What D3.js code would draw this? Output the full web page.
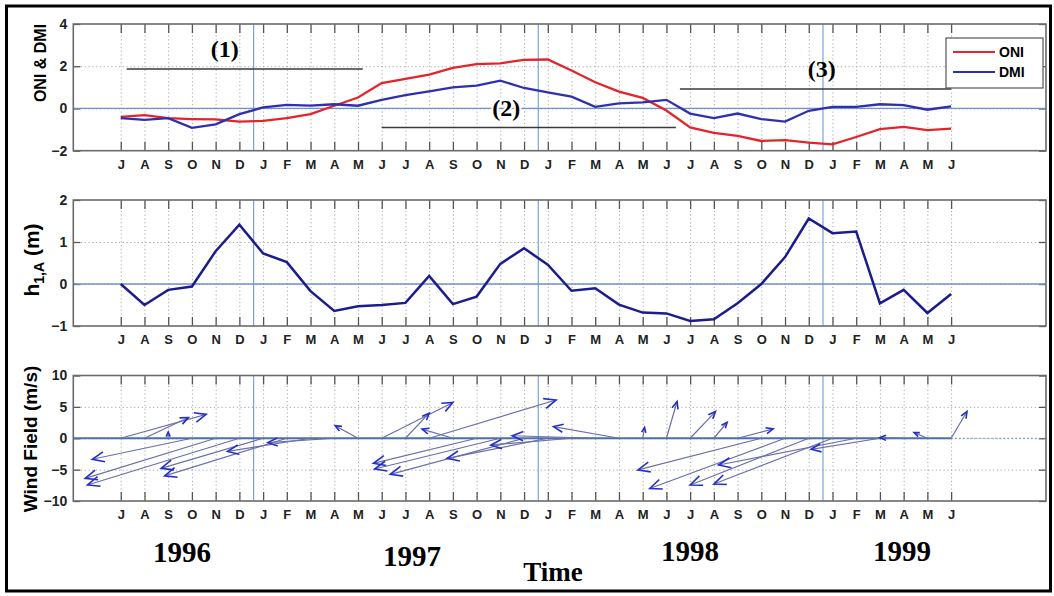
<!doctype html>
<html lang="en">
<head>
  <meta charset="utf-8">
  <title>ONI, DMI, h1A and wind field 1996-1999</title>
  <script src="https://d3js.org/d3.v7.min.js"></script>
  <style>
    body { margin: 0; background: #fff; }
    svg text { font-family: "Liberation Sans", Arial, sans-serif; }
    .tick text { font-size: 13px; font-weight: bold; fill: #222; }
    .grid line { stroke: #a8a8a8; stroke-dasharray: 1.2 2.6; }
    .grid path, .ax path { display: none; }
    .ax line { stroke: #555; stroke-width: 1.3; }
    .serif { font-family: "Liberation Serif", "Times New Roman", serif; font-weight: bold; }
  </style>
</head>
<body>
<svg id="chart" width="1054" height="596"></svg>
<script>
// month letters, Jul 1996 .. Jun 1999
var months = ["J","A","S","O","N","D","J","F","M","A","M","J",
              "J","A","S","O","N","D","J","F","M","A","M","J",
              "J","A","S","O","N","D","J","F","M","A","M","J"];

var oni = [-0.40, -0.32, -0.46, -0.50, -0.52, -0.62, -0.59, -0.46, -0.27, 0.13, 0.52, 1.20,
           1.40, 1.60, 1.92, 2.10, 2.14, 2.30, 2.32, 1.80, 1.24, 0.80, 0.50, -0.10,
           -0.90, -1.16, -1.30, -1.54, -1.50, -1.62, -1.70, -1.35, -0.98, -0.87, -1.03, -0.95];

var dmi = [-0.46, -0.54, -0.46, -0.92, -0.75, -0.27, 0.05, 0.17, 0.13, 0.20, 0.13, 0.41,
           0.63, 0.81, 1.00, 1.08, 1.32, 0.97, 0.76, 0.56, 0.08, 0.24, 0.29, 0.41,
           -0.24, -0.46, -0.24, -0.50, -0.62, -0.11, 0.08, 0.08, 0.20, 0.16, -0.06, 0.10];

var h1a = [0.00, -0.50, -0.14, -0.06, 0.78, 1.41, 0.73, 0.52, -0.17, -0.64, -0.53, -0.50,
           -0.45, 0.19, -0.48, -0.30, 0.48, 0.85, 0.46, -0.16, -0.10, -0.49, -0.68, -0.70,
           -0.88, -0.84, -0.46, 0.00, 0.64, 1.56, 1.21, 1.25, -0.46, -0.14, -0.69, -0.24];

// quiver: arrow tip offset from (month, 0), x in months, y in m/s
var windU = [3.6, 1.85, 0.0, -4.2, -5.5, -6.4, -4.3, -5.15, -3.5, -2.8, -0.96, 3.0,
             1.0, 5.35, -1.3, -4.35, -5.3, -5.64, -4.24, -3.4, -3.5, -2.76, 0.08, 0.45,
             1.07, 0.56, 1.5, -5.2, -5.7, -5.0, -5.0, -5.8, -2.9, -1.0, -0.56, 0.67];
var windV = [3.8, 3.3, 1.0, -3.35, -6.4, -7.45, -4.8, -6.0, -2.1, -0.7, 2.0, 5.7,
             4.0, 6.1, 1.45, -4.0, -4.9, -5.75, -3.2, -1.07, 0.4, 1.86, 1.7, 5.85,
             4.25, 2.55, 1.5, -5.05, -8.0, -7.45, -7.3, -4.26, -1.76, 0.1, 0.9, 4.26];

var yearMarks = [5.6, 17.6, 29.6];
var years = ["1996", "1997", "1998", "1999"];

var svg = d3.select("#chart");
var monthIdx = d3.range(months.length);

var x = d3.scaleLinear().domain([-2, 39]).range([73.3, 1046]);
var yTop = d3.scaleLinear().domain([-2, 4]).range([150.7, 24]);
var yMid = d3.scaleLinear().domain([-1, 2]).range([326, 200]);
var yBot = d3.scaleLinear().domain([-10, 10]).range([501, 375.5]);

// outer frame
svg.append("rect").attr("x", 6.5).attr("y", 6).attr("width", 1044).attr("height", 585)
   .attr("fill", "#fff").attr("stroke", "#000").attr("stroke-width", 3);

function panel(y, yTicks) {
  var g = svg.append("g");
  var y0 = y.range()[0], y1 = y.range()[1];
  var h = y0 - y1, w = x.range()[1] - x.range()[0];

  g.append("g").attr("class", "grid").attr("transform", "translate(0," + y0 + ")")
    .call(d3.axisBottom(x).tickValues(monthIdx).tickSize(-h).tickFormat(""));
  g.append("g").attr("class", "grid").attr("transform", "translate(" + x.range()[0] + ",0)")
    .call(d3.axisLeft(y).tickValues(yTicks.slice(1, -1)).tickSize(-w).tickFormat(""));

  // year boundaries
  g.selectAll(".yr").data(yearMarks).enter().append("line")
    .attr("x1", function(d) { return x(d); }).attr("x2", function(d) { return x(d); })
    .attr("y1", y1).attr("y2", y0)
    .attr("stroke", "#7fa3d8").attr("stroke-width", 1.2);

  g.append("g").attr("class", "ax").attr("transform", "translate(0," + y0 + ")")
    .call(d3.axisBottom(x).tickValues(monthIdx).tickSizeInner(-9).tickSizeOuter(0)
      .tickPadding(9).tickFormat(function(i) { return months[i]; }));
  g.append("g").attr("class", "ax").attr("transform", "translate(0," + y1 + ")")
    .call(d3.axisTop(x).tickValues(monthIdx).tickSizeInner(-9).tickSizeOuter(0).tickFormat(""));
  g.append("g").attr("class", "ax yl").attr("transform", "translate(" + x.range()[0] + ",0)")
    .call(d3.axisLeft(y).tickValues(yTicks).tickSizeInner(-7).tickSizeOuter(0).tickPadding(6)
      .tickFormat(d3.format("d")));
  g.append("g").attr("class", "ax").attr("transform", "translate(" + x.range()[1] + ",0)")
    .call(d3.axisRight(y).tickValues(yTicks).tickSizeInner(-7).tickSizeOuter(0).tickFormat(""));
  g.selectAll(".yl .tick text").style("font-size", "14px");
  return g;
}

function frame(y) {
  svg.append("rect").attr("x", x.range()[0]).attr("y", y.range()[1])
    .attr("width", x.range()[1] - x.range()[0]).attr("height", y.range()[0] - y.range()[1])
    .attr("fill", "none").attr("stroke", "#6b6b6b").attr("stroke-width", 1.6);
}

// ---- top panel: ONI & DMI
var gTop = panel(yTop, [-2, 0, 2, 4]);
gTop.append("line").attr("x1", x.range()[0]).attr("x2", x.range()[1])
  .attr("y1", yTop(0)).attr("y2", yTop(0)).attr("stroke", "#6f93d0").attr("stroke-width", 1.2);

var line = d3.line().x(function(d, i) { return x(i); });
gTop.append("path").datum(oni).attr("fill", "none").attr("stroke", "#e3242b").attr("stroke-width", 2.3)
  .attr("d", line.y(function(d) { return yTop(d); }));
gTop.append("path").datum(dmi).attr("fill", "none").attr("stroke", "#2f2fb0").attr("stroke-width", 2.3)
  .attr("d", line.y(function(d) { return yTop(d); }));

// phase annotations
var phases = [
  {label: "(1)", from: 0.25, to: 10.2, level: 1.87, lx: 4.38, ly: 2.8},
  {label: "(2)", from: 11.0, to: 23.4, level: -0.9, lx: 16.25, ly: 0.0},
  {label: "(3)", from: 23.57, to: 35.0, level: 0.92, lx: 29.55, ly: 1.87}
];
gTop.selectAll(".ph").data(phases).enter().append("line")
  .attr("x1", function(d) { return x(d.from); }).attr("x2", function(d) { return x(d.to); })
  .attr("y1", function(d) { return yTop(d.level); }).attr("y2", function(d) { return yTop(d.level); })
  .attr("stroke", "#3a3a3a").attr("stroke-width", 1.4);
gTop.selectAll(".phl").data(phases).enter().append("text")
  .attr("class", "serif").attr("text-anchor", "middle").attr("dy", "0.33em")
  .attr("x", function(d) { return x(d.lx); }).attr("y", function(d) { return yTop(d.ly); })
  .style("font-size", "24px").style("paint-order", "stroke")
  .attr("stroke", function(d) { return d.label === "(2)" ? "#fff" : "none"; }).attr("stroke-width", 4)
  .text(function(d) { return d.label; });
frame(yTop);

// legend
var lg = svg.append("g");
lg.append("rect").attr("x", 946).attr("y", 38).attr("width", 97).attr("height", 50)
  .attr("fill", "#fff").attr("stroke", "#555").attr("stroke-width", 1.2);
[["ONI", "#e3242b", 52], ["DMI", "#2f2fb0", 72]].forEach(function(s) {
  lg.append("line").attr("x1", 953).attr("x2", 995).attr("y1", s[2]).attr("y2", s[2])
    .attr("stroke", s[1]).attr("stroke-width", 2.2);
  lg.append("text").attr("x", 999).attr("y", s[2]).attr("dy", "0.36em")
    .style("font-size", "14px").style("font-weight", "bold").text(s[0]);
});

// ---- middle panel: h1,A
var gMid = panel(yMid, [-1, 0, 1, 2]);
gMid.append("line").attr("x1", x.range()[0]).attr("x2", x.range()[1])
  .attr("y1", yMid(0)).attr("y2", yMid(0)).attr("stroke", "#6f93d0").attr("stroke-width", 1.4);
gMid.append("path").datum(h1a).attr("fill", "none").attr("stroke", "#1c1c8e").attr("stroke-width", 2.5)
  .attr("d", line.y(function(d) { return yMid(d); }));
frame(yMid);

// ---- bottom panel: wind field quiver
var gBot = panel(yBot, [-10, -5, 0, 5, 10]);
gBot.append("line").attr("x1", x.range()[0]).attr("x2", x(35))
  .attr("y1", yBot(0)).attr("y2", yBot(0)).attr("stroke", "#4d6db5").attr("stroke-width", 2);
gBot.append("line").attr("x1", x(35)).attr("x2", x.range()[1])
  .attr("y1", yBot(0)).attr("y2", yBot(0)).attr("stroke", "#6f93d0").attr("stroke-width", 1.2)
  .attr("stroke-dasharray", "2 2");

monthIdx.forEach(function(i) {
  var x0 = x(i), y0 = yBot(0), x1 = x(i + windU[i]), y1 = yBot(windV[i]);
  var dx = x1 - x0, dy = y1 - y0, len = Math.sqrt(dx * dx + dy * dy);
  if (len < 0.5) return;
  gBot.append("line").attr("x1", x0).attr("y1", y0).attr("x2", x1).attr("y2", y1)
    .attr("stroke", "#6a70aa").attr("stroke-width", 1.2);
  var hl = Math.max(3, Math.min(13, 0.09 * len + 4.5)), a = Math.atan2(dy, dx), s = 0.4;
  var p = "M" + (x1 - hl * Math.cos(a - s)) + "," + (y1 - hl * Math.sin(a - s)) +
          "L" + x1 + "," + y1 +
          "L" + (x1 - hl * Math.cos(a + s)) + "," + (y1 - hl * Math.sin(a + s));
  gBot.append("path").attr("d", p).attr("fill", "none")
    .attr("stroke", "#2330c8").attr("stroke-width", 1.6);
});
frame(yBot);

// ---- axis titles
function ylab(txt, cx, cy, size) {
  return svg.append("text").attr("transform", "translate(" + cx + "," + cy + ") rotate(-90)")
    .attr("text-anchor", "middle").style("font-size", size).style("font-weight", "bold").text(txt);
}
ylab("ONI & DMI", 46, 63, "16px");
var hl1 = svg.append("text").attr("transform", "translate(39,260) rotate(-90)")
  .attr("text-anchor", "middle").style("font-size", "21px").style("font-weight", "bold");
hl1.append("tspan").text("h");
hl1.append("tspan").attr("dy", 5).style("font-size", "14px").text("1,A");
hl1.append("tspan").attr("dy", -5).text(" (m)");
ylab("Wind Field (m/s)", 37, 439, "19px");

svg.selectAll(".yrl").data(years).enter().append("text")
  .attr("class", "serif").attr("text-anchor", "middle")
  .attr("x", function(d, i) { return [182, 412, 690, 902][i]; })
  .attr("y", function(d, i) { return [562, 566, 561, 561][i]; })
  .style("font-size", "29px").text(function(d) { return d; });
svg.append("text").attr("class", "serif").attr("text-anchor", "middle")
  .attr("x", 553).attr("y", 581).style("font-size", "27px").text("Time");
</script>
</body>
</html>
